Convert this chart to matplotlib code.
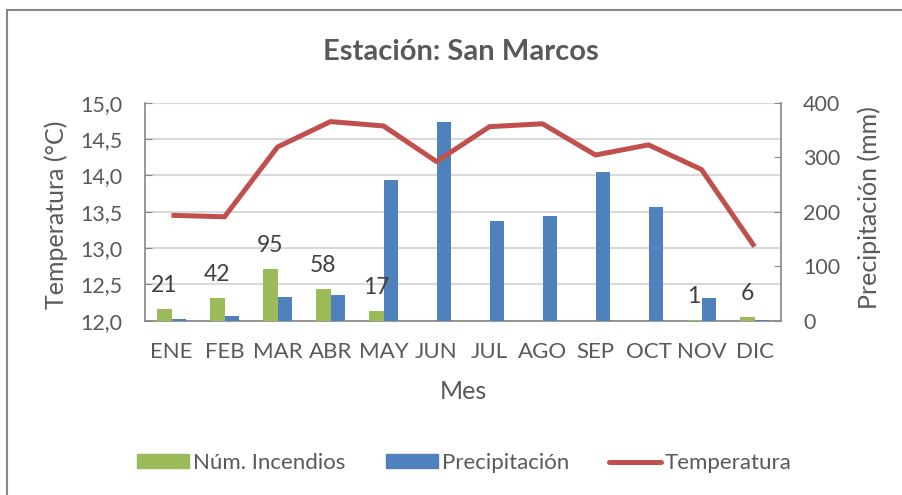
import matplotlib
matplotlib.use("Agg")
import matplotlib.pyplot as plt
from matplotlib.patches import Patch, Rectangle
from matplotlib.lines import Line2D
import numpy as np

plt.rcParams["font.family"] = ["Lato", "DejaVu Sans"]

meses = ["ENE", "FEB", "MAR", "ABR", "MAY", "JUN", "JUL", "AGO", "SEP", "OCT", "NOV", "DIC"]
incendios = [21, 42, 95, 58, 17, 0, 0, 0, 0, 0, 1, 6]
precipitacion = [3, 9, 44, 48, 258, 364, 183, 192, 272, 209, 41, 2]
temperatura = [13.45, 13.43, 14.39, 14.74, 14.68, 14.19, 14.67, 14.71, 14.28, 14.42, 14.08, 13.02]

temp_ticks = [12.0, 12.5, 13.0, 13.5, 14.0, 14.5, 15.0]
temp_labels = ["12,0", "12,5", "13,0", "13,5", "14,0", "14,5", "15,0"]
prec_ticks = [0, 100, 200, 300, 400]

VERDE = "#9BBB59"
AZUL = "#4F81BD"
ROJO = "#C0504D"
TEXTO = "#595959"
EJE = "#868686"
REJILLA = "#D9D9D9"

W, H = 902, 495
fig = plt.figure(figsize=(W / 100, H / 100), dpi=100)

# outer chart frame
fig.patches.append(Rectangle((7 / W, -0.2), 2, 1.2 - 10 / H, transform=fig.transFigure,
                             fill=False, edgecolor=EJE, lw=1.5))

ax = fig.add_axes([145 / W, 1 - 320.7 / H, (781 - 145) / W, (320.7 - 102.7) / H])
x = np.arange(len(meses))

# temperature axis (left) carries the gridlines
ax.set_xlim(-0.5, len(meses) - 0.5)
ax.set_ylim(12, 15)
ax.set_yticks(temp_ticks)
ax.set_yticklabels(temp_labels)
ax.grid(axis="y", color=REJILLA, lw=1.5)
ax.set_axisbelow(True)
ax.set_xticks(x)
ax.set_xticklabels(meses)
ax.tick_params(axis="x", length=0, pad=15, labelsize=16, labelcolor=TEXTO)
ax.tick_params(axis="y", direction="in", length=5, color=EJE, pad=16,
               labelsize=15.5, labelcolor=TEXTO)
ax.set_ylabel("Temperatura (°C)", fontsize=18, color=TEXTO)
ax.yaxis.set_label_coords(-0.121, 0.487)
ax.set_xlabel("Mes", fontsize=18, color=TEXTO)
ax.xaxis.set_label_coords(0.5, -0.272)
for s in ("top", "right"):
    ax.spines[s].set_visible(False)
for s in ("left", "bottom"):
    ax.spines[s].set_color(EJE)
    ax.spines[s].set_linewidth(1.2)

# bars on the precipitation axis (right)
axb = ax.twinx()
axb.set_ylim(0, 400)
axb.set_yticks(prec_ticks)
axb.tick_params(axis="y", direction="in", length=5, color=EJE, pad=16,
                labelsize=15.5, labelcolor=TEXTO)
axb.set_ylabel("Precipitación (mm)", fontsize=18, color=TEXTO)
axb.yaxis.set_label_coords(1.1195, 0.519)
for s in ("top", "left", "bottom"):
    axb.spines[s].set_visible(False)
axb.spines["right"].set_color(EJE)
axb.spines["right"].set_linewidth(1.2)

bw = 0.283
axb.bar(x - bw / 2, incendios, width=bw, color=VERDE)
axb.bar(x + bw / 2, precipitacion, width=bw, color=AZUL)
for xi, n in zip(x, incendios):
    if n > 0:
        axb.annotate(str(n), (xi - bw / 2, n), xytext=(0, 17), textcoords="offset points",
                     ha="center", va="center", fontsize=16.5, color="#404040")

# temperature line on top of the bars
axl = ax.twinx()
axl.set_ylim(12, 15)
axl.axis("off")
axl.plot(x, temperatura, color=ROJO, lw=3.6, solid_joinstyle="round",
         solid_capstyle="butt")

fig.text(461 / W, 1 - 52.5 / H, "Estación: San Marcos", ha="center", va="center",
         fontsize=21, fontweight="bold", color=TEXTO)

handles = [Patch(color=VERDE), Patch(color=AZUL),
           Line2D([], [], color=ROJO, lw=3.6, solid_capstyle="round")]
fig.legend(handles, ["Núm. Incendios", "Precipitación", "Temperatura"],
           loc="center", bbox_to_anchor=(464.5 / W, 1 - 463 / H), ncol=3,
           frameon=False, fontsize=16, labelcolor=TEXTO, handlelength=2.34,
           handleheight=0.59, handletextpad=0.18, columnspacing=1.8)

fig.savefig("out.png", dpi=100)
